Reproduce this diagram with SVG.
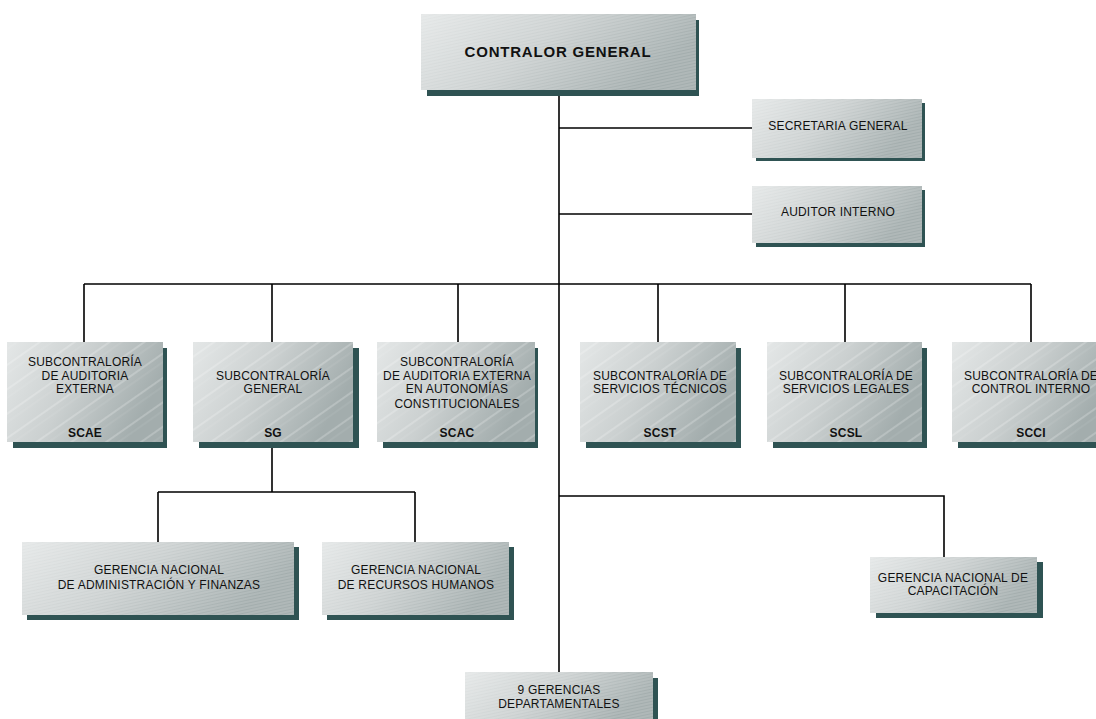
<svg xmlns="http://www.w3.org/2000/svg" width="1096" height="719" viewBox="0 0 1096 719">
<defs>
<linearGradient id="face" x1="0" y1="0" x2="1" y2="0.35">
<stop offset="0" stop-color="#e4e7e7"/>
<stop offset="0.5" stop-color="#cbd0d0"/>
<stop offset="1" stop-color="#a3adad"/>
</linearGradient>
<pattern id="hatch" width="4" height="3" patternUnits="userSpaceOnUse" patternTransform="rotate(-12)">
<line x1="0" y1="1" x2="4" y2="1" stroke="#ffffff" stroke-width="0.8" stroke-opacity="0.35"/>
</pattern>
<pattern id="stripe" width="20" height="20" patternUnits="userSpaceOnUse" patternTransform="rotate(-35)">
<line x1="0" y1="3" x2="20" y2="3" stroke="#ffffff" stroke-width="1.2" stroke-opacity="0.35"/>
<line x1="0" y1="10" x2="20" y2="10" stroke="#ffffff" stroke-width="0.6" stroke-opacity="0.2"/>
</pattern>
</defs>
<style>
.sh{fill:#2f5353}
.fc{fill:url(#face)}
.hx{fill:url(#hatch)}
.st{fill:url(#stripe)}
text{font-family:"Liberation Sans",Arial,sans-serif;font-size:12px;fill:#111;text-anchor:middle;letter-spacing:0.2px}
.b{font-weight:bold}
.conn{stroke:#000;stroke-width:1.6;fill:none}
</style>
<rect width="1096" height="719" fill="#ffffff"/>
<g id="connectors" class="conn">
<path d="M559 90V672"/>
<path d="M559 128H752"/>
<path d="M559 214H752"/>
<path d="M84 284H1031"/>
<path d="M84 284V342M272 284V342M458 284V342M658 284V342M845 284V342M1031 284V342"/>
<path d="M272 442V492M158 492H415M158 492V542M415 492V542"/>
<path d="M559 496H944V557"/>
</g>
<g id="contralor">
<rect class="sh" x="427" y="20" width="272" height="76"/>
<rect class="fc" x="421" y="14" width="275" height="76"/>
<rect class="hx" x="421" y="14" width="275" height="76"/>
<text class="b" x="558" y="57" style="font-size:15px;letter-spacing:0.8px">CONTRALOR GENERAL</text>
</g>
<g id="secretaria">
<rect class="sh" x="756" y="103" width="169" height="58"/>
<rect class="fc" x="752" y="99" width="170" height="59"/>
<rect class="hx" x="752" y="99" width="170" height="59"/>
<text x="838" y="130">SECRETARIA GENERAL</text>
</g>
<g id="auditor">
<rect class="sh" x="756" y="190" width="169" height="57"/>
<rect class="fc" x="752" y="186" width="170" height="57"/>
<rect class="hx" x="752" y="186" width="170" height="57"/>
<text x="838" y="216">AUDITOR INTERNO</text>
</g>
<g id="scae">
<rect class="sh" x="13" y="348" width="154" height="100"/>
<rect class="fc" x="7" y="342" width="156" height="100"/>
<rect class="st" x="7" y="342" width="156" height="100"/>
<text x="85" y="366">SUBCONTRALORÍA</text>
<text x="85" y="380">DE AUDITORIA</text>
<text x="85" y="393">EXTERNA</text>
<text class="b" x="85" y="437">SCAE</text>
</g>
<g id="sg">
<rect class="sh" x="199" y="348" width="160" height="100"/>
<rect class="fc" x="193" y="342" width="160" height="100"/>
<rect class="st" x="193" y="342" width="160" height="100"/>
<text x="273" y="380">SUBCONTRALORÍA</text>
<text x="273" y="393">GENERAL</text>
<text class="b" x="273" y="437">SG</text>
</g>
<g id="scac">
<rect class="sh" x="383" y="348" width="155" height="100"/>
<rect class="fc" x="377" y="342" width="158" height="100"/>
<rect class="st" x="377" y="342" width="158" height="100"/>
<text x="457" y="366">SUBCONTRALORÍA</text>
<text x="457" y="380">DE AUDITORIA EXTERNA</text>
<text x="457" y="393">EN AUTONOMÍAS</text>
<text x="457" y="408">CONSTITUCIONALES</text>
<text class="b" x="457" y="437">SCAC</text>
</g>
<g id="scst">
<rect class="sh" x="586" y="348" width="155" height="100"/>
<rect class="fc" x="580" y="342" width="156" height="100"/>
<rect class="st" x="580" y="342" width="156" height="100"/>
<text x="660" y="380">SUBCONTRALORÍA DE</text>
<text x="660" y="393">SERVICIOS TÉCNICOS</text>
<text class="b" x="660" y="437">SCST</text>
</g>
<g id="scsl">
<rect class="sh" x="773" y="348" width="154" height="100"/>
<rect class="fc" x="767" y="342" width="155" height="100"/>
<rect class="st" x="767" y="342" width="155" height="100"/>
<text x="846" y="380">SUBCONTRALORÍA DE</text>
<text x="846" y="393">SERVICIOS LEGALES</text>
<text class="b" x="846" y="437">SCSL</text>
</g>
<g id="scci">
<rect class="sh" x="958" y="348" width="156" height="100"/>
<rect class="fc" x="952" y="342" width="158" height="100"/>
<rect class="st" x="952" y="342" width="158" height="100"/>
<text x="1031" y="380">SUBCONTRALORÍA DE</text>
<text x="1031" y="393">CONTROL INTERNO</text>
<text class="b" x="1031" y="437">SCCI</text>
</g>
<g id="gn-admin">
<rect class="sh" x="27" y="547" width="272" height="73"/>
<rect class="fc" x="22" y="542" width="272" height="73"/>
<rect class="hx" x="22" y="542" width="272" height="73"/>
<text x="159" y="574">GERENCIA NACIONAL</text>
<text x="159" y="589">DE ADMINISTRACIÓN Y FINANZAS</text>
</g>
<g id="gn-rrhh">
<rect class="sh" x="327" y="547" width="187" height="73"/>
<rect class="fc" x="322" y="542" width="187" height="73"/>
<rect class="hx" x="322" y="542" width="187" height="73"/>
<text x="416" y="574">GERENCIA NACIONAL</text>
<text x="416" y="589">DE RECURSOS HUMANOS</text>
</g>
<g id="gn-capacitacion">
<rect class="sh" x="876" y="562" width="167" height="56"/>
<rect class="fc" x="870" y="557" width="167" height="56"/>
<rect class="hx" x="870" y="557" width="167" height="56"/>
<text x="953" y="582">GERENCIA NACIONAL DE</text>
<text x="953" y="595">CAPACITACIÓN</text>
</g>
<g id="gerencias-departamentales">
<rect class="sh" x="471" y="678" width="187" height="50"/>
<rect class="fc" x="465" y="672" width="188" height="50"/>
<rect class="hx" x="465" y="672" width="188" height="50"/>
<text x="559" y="694">9 GERENCIAS</text>
<text x="559" y="708">DEPARTAMENTALES</text>
</g>
</svg>
